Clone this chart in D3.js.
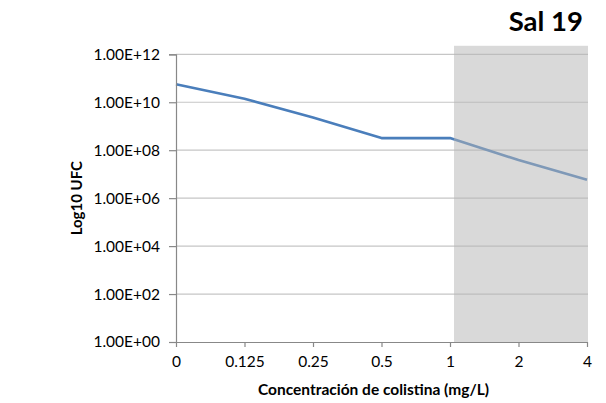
<!DOCTYPE html>
<html>
<head>
<meta charset="utf-8">
<script src="https://cdn.jsdelivr.net/npm/d3@7"></script>
<style>
  html, body { margin: 0; padding: 0; background: #fff; }
  svg { display: block; }
  text { font-family: Lato, "Open Sans", sans-serif; fill: #000; }
</style>
</head>
<body>
<svg id="chart" width="606" height="403"></svg>
<script>
// ---- data ----
const categories = ["0", "0.125", "0.25", "0.5", "1", "2", "4"];
const ufcValues = [5.6e10, 1.4e10, 2.3e9, 3.2e8, 3.2e8, 3.9e7, 5.8e6];
const yTickValues = [1e0, 1e2, 1e4, 1e6, 1e8, 1e10, 1e12];
const yTickLabels = ["1.00E+00", "1.00E+02", "1.00E+04", "1.00E+06", "1.00E+08", "1.00E+10", "1.00E+12"];
const shadedRange = ["1", "4"];
const chartTitle = "Sal 19";
const xTitle = "Concentración de colistina (mg/L)";
const yTitle = "Log10 UFC";

// ---- layout ----
const svg = d3.select("#chart");
const mLeft = 176, mRight = 587, mTop = 54.3, mBottom = 342;

const x = d3.scalePoint().domain(categories).range([mLeft, mRight]);
const y = d3.scaleLog().domain([1, 1e12]).range([mBottom, mTop]);

// gridlines
svg.append("g").selectAll("line").data(yTickValues.filter(v => v > 1)).join("line")
  .attr("x1", mLeft).attr("x2", mRight + 1)
  .attr("y1", d => y(d)).attr("y2", d => y(d))
  .attr("stroke", "#c6c6c6").attr("stroke-width", 1.2);

// data line
const line = d3.line().x((d, i) => x(categories[i])).y(d => y(d));
svg.append("path").datum(ufcValues)
  .attr("d", line)
  .attr("fill", "none")
  .attr("stroke", "#4a7ebb")
  .attr("stroke-width", 2.6)
  .attr("stroke-linejoin", "round");

// shaded overlay region
const shadeX0 = x(shadedRange[0]) + 4, shadeX1 = x(shadedRange[1]) + 1, shadeTop = mTop - 8.5;
svg.append("rect")
  .attr("x", shadeX0)
  .attr("y", shadeTop)
  .attr("width", shadeX1 - shadeX0)
  .attr("height", mBottom - shadeTop)
  .attr("fill", "#b4b4b4")
  .attr("fill-opacity", 0.5);

// y axis
const yAxis = d3.axisLeft(y).tickValues(yTickValues)
  .tickFormat((d, i) => yTickLabels[i]).tickSize(7).tickPadding(9);
const gy = svg.append("g").attr("transform", `translate(${mLeft},0)`).call(yAxis);
gy.select(".domain").attr("stroke", "#888").attr("stroke-width", 1.2);
gy.selectAll(".tick line").attr("stroke", "#888").attr("stroke-width", 1.2);
gy.selectAll(".tick text").attr("font-size", 15.5).attr("font-family", "Lato").attr("fill", "#000");

// x axis
const xAxis = d3.axisBottom(x).tickSize(5).tickPadding(9).tickSizeOuter(0);
const gx = svg.append("g").attr("transform", `translate(0,${mBottom})`).call(xAxis);
gx.select(".domain").attr("stroke", "#888").attr("stroke-width", 1.2);
gx.selectAll(".tick line").attr("stroke", "#888").attr("stroke-width", 1.2);
gx.selectAll(".tick text").attr("font-size", 15.5).attr("font-family", "Lato").attr("fill", "#000");

// titles
svg.append("text").attr("x", 583).attr("y", 31).attr("text-anchor", "end")
  .attr("font-size", 27.5).attr("font-weight", "bold").text(chartTitle);

svg.append("text").attr("x", (mLeft + mRight) / 2 - 8).attr("y", 395).attr("text-anchor", "middle")
  .attr("font-size", 15.5).attr("font-weight", "bold").text(xTitle);

svg.append("text").attr("transform", `translate(82,${(mTop + mBottom) / 2}) rotate(-90)`)
  .attr("text-anchor", "middle")
  .attr("font-size", 15).attr("font-weight", "bold").text(yTitle);
</script>
</body>
</html>
